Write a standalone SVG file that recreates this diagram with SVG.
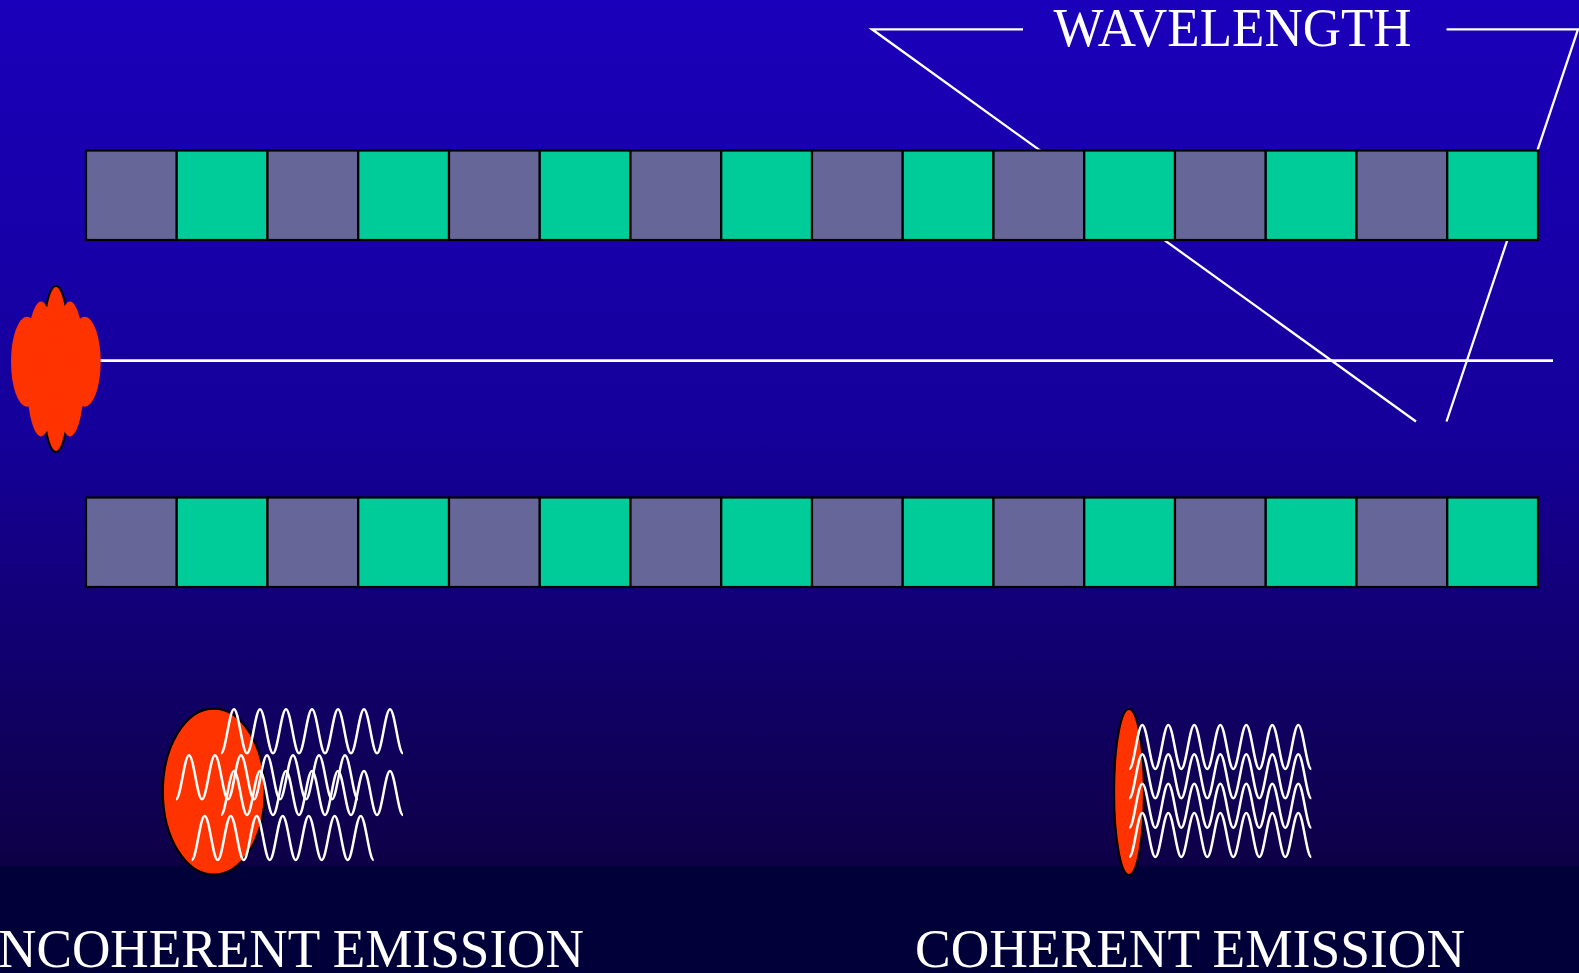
<svg xmlns="http://www.w3.org/2000/svg" xmlns:xlink="http://www.w3.org/1999/xlink" width="1579" height="973" viewBox="0 0 1579 973">
  <defs>
    <linearGradient id="bg" x1="0" y1="0" x2="0" y2="866" gradientUnits="userSpaceOnUse">
      <stop offset="0" stop-color="#1A00BA"/>
      <stop offset="0.5" stop-color="#15009A"/>
      <stop offset="0.8" stop-color="#100066"/>
      <stop offset="1" stop-color="#0E0046"/>
    </linearGradient>
    <!-- seven periods of a sine wave, starting and ending at a trough -->
    <path id="wave" d="M0,0 c4.72,0 8.28,-44 13,-44 s8.28,44 13,44 s8.28,-44 13,-44 s8.28,44 13,44 s8.28,-44 13,-44 s8.28,44 13,44 s8.28,-44 13,-44 s8.28,44 13,44 s8.28,-44 13,-44 s8.28,44 13,44 s8.28,-44 13,-44 s8.28,44 13,44 s8.28,-44 13,-44 s8.28,44 13,44"/>
  </defs>
  <style>
    .g { fill: #666699; stroke: #000; stroke-width: 2.2; }
    .c { fill: #00CC99; stroke: #000; stroke-width: 2.2; }
    .ln { fill: none; stroke: #fff; stroke-width: 2.3; }
    .wv { fill: none; stroke: #fff; stroke-width: 2.5; }
    .red { fill: #FF3300; }
    .lbl { font-family: "Liberation Serif", "Times New Roman", serif; fill: #fff; }
  </style>

  <!-- background -->
  <rect x="0" y="0" width="1579" height="973" fill="url(#bg)"/>
  <rect x="0" y="866" width="1579" height="107" fill="#020038"/>

  <!-- wavelength marker lines (behind the bars) -->
  <g id="connectors">
    <polyline class="ln" points="1023,29.3 872,29.3 1416,421.5"/>
    <polyline class="ln" points="1446.5,29.3 1578,29.3 1446.5,421.5"/>
    <line x1="97" y1="360.7" x2="1553" y2="360.7" stroke="#fff" stroke-width="2.7"/>
  </g>

  <g id="wavelength-label">
    <text class="lbl" x="1053.5" y="45.5" font-size="54" textLength="358" lengthAdjust="spacingAndGlyphs">WAVELENGTH</text>
  </g>

  <!-- upper magnet row -->
  <g id="bar-top">
    <rect class="g" x="86" y="150.5" width="90.75" height="89.5"/>
    <rect class="c" x="176.75" y="150.5" width="90.75" height="89.5"/>
    <rect class="g" x="267.5" y="150.5" width="90.75" height="89.5"/>
    <rect class="c" x="358.25" y="150.5" width="90.75" height="89.5"/>
    <rect class="g" x="449" y="150.5" width="90.75" height="89.5"/>
    <rect class="c" x="539.75" y="150.5" width="90.75" height="89.5"/>
    <rect class="g" x="630.5" y="150.5" width="90.75" height="89.5"/>
    <rect class="c" x="721.25" y="150.5" width="90.75" height="89.5"/>
    <rect class="g" x="812" y="150.5" width="90.75" height="89.5"/>
    <rect class="c" x="902.75" y="150.5" width="90.75" height="89.5"/>
    <rect class="g" x="993.5" y="150.5" width="90.75" height="89.5"/>
    <rect class="c" x="1084.25" y="150.5" width="90.75" height="89.5"/>
    <rect class="g" x="1175" y="150.5" width="90.75" height="89.5"/>
    <rect class="c" x="1265.75" y="150.5" width="90.75" height="89.5"/>
    <rect class="g" x="1356.5" y="150.5" width="90.75" height="89.5"/>
    <rect class="c" x="1447.25" y="150.5" width="90.75" height="89.5"/>
  </g>

  <!-- lower magnet row -->
  <g id="bar-bottom">
    <rect class="g" x="86" y="497.5" width="90.75" height="89.5"/>
    <rect class="c" x="176.75" y="497.5" width="90.75" height="89.5"/>
    <rect class="g" x="267.5" y="497.5" width="90.75" height="89.5"/>
    <rect class="c" x="358.25" y="497.5" width="90.75" height="89.5"/>
    <rect class="g" x="449" y="497.5" width="90.75" height="89.5"/>
    <rect class="c" x="539.75" y="497.5" width="90.75" height="89.5"/>
    <rect class="g" x="630.5" y="497.5" width="90.75" height="89.5"/>
    <rect class="c" x="721.25" y="497.5" width="90.75" height="89.5"/>
    <rect class="g" x="812" y="497.5" width="90.75" height="89.5"/>
    <rect class="c" x="902.75" y="497.5" width="90.75" height="89.5"/>
    <rect class="g" x="993.5" y="497.5" width="90.75" height="89.5"/>
    <rect class="c" x="1084.25" y="497.5" width="90.75" height="89.5"/>
    <rect class="g" x="1175" y="497.5" width="90.75" height="89.5"/>
    <rect class="c" x="1265.75" y="497.5" width="90.75" height="89.5"/>
    <rect class="g" x="1356.5" y="497.5" width="90.75" height="89.5"/>
    <rect class="c" x="1447.25" y="497.5" width="90.75" height="89.5"/>
  </g>

  <!-- electron bunch entering the undulator -->
  <g id="source">
    <ellipse class="red" cx="56" cy="369" rx="15" ry="83" stroke="#000" stroke-width="2.2"/>
    <ellipse class="red" cx="41" cy="369" rx="15" ry="67.5"/>
    <ellipse class="red" cx="70" cy="369" rx="15" ry="67.5"/>
    <ellipse class="red" cx="27" cy="361.7" rx="16" ry="45"/>
    <ellipse class="red" cx="84.7" cy="361.7" rx="16" ry="45"/>
  </g>

  <!-- incoherent emission: wide bunch, waves out of phase -->
  <g id="incoherent">
    <ellipse class="red" cx="213.8" cy="791.7" rx="51" ry="83" stroke="#000" stroke-width="2.2"/>
    <use class="wv" xlink:href="#wave" transform="translate(221,753.3)"/>
    <use class="wv" xlink:href="#wave" transform="translate(176,799.3)"/>
    <use class="wv" xlink:href="#wave" transform="translate(221,815)"/>
    <use class="wv" xlink:href="#wave" transform="translate(191.7,860)"/>
  </g>

  <!-- coherent emission: thin bunch, waves in phase -->
  <g id="coherent">
    <ellipse class="red" cx="1129" cy="792" rx="15" ry="83" stroke="#000" stroke-width="2.2"/>
    <use class="wv" xlink:href="#wave" transform="translate(1129.3,769)"/>
    <use class="wv" xlink:href="#wave" transform="translate(1129.3,798.3)"/>
    <use class="wv" xlink:href="#wave" transform="translate(1129.3,827.7)"/>
    <use class="wv" xlink:href="#wave" transform="translate(1129.3,857)"/>
  </g>

  <g id="labels">
    <text class="lbl" x="-2" y="966.5" font-size="55" textLength="586" lengthAdjust="spacingAndGlyphs">NCOHERENT EMISSION</text>
    <text class="lbl" x="915" y="966.5" font-size="55" textLength="550" lengthAdjust="spacingAndGlyphs">COHERENT EMISSION</text>
  </g>
</svg>
